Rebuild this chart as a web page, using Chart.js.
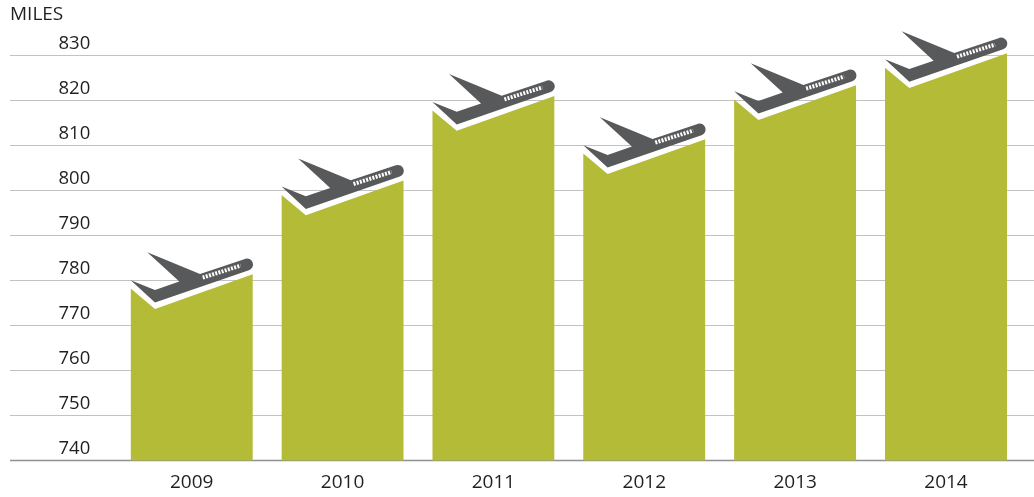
<!DOCTYPE html>
<html>
<head>
<meta charset="utf-8">
<title>Miles</title>
<script src="https://cdn.jsdelivr.net/npm/chart.js@4"></script>
<style>
  body { margin: 0; background: #fff; }
  #wrap { width: 1034px; height: 497px; }
</style>
</head>
<body>
<div id="wrap"><canvas id="miles_chart"></canvas></div>
<script>
const years = ['2009', '2010', '2011', '2012', '2013', '2014'];
const miles = [781.4, 802.2, 821, 811.4, 823.4, 830.5];
const yTicks = [740, 750, 760, 770, 780, 790, 800, 810, 820, 830];

const FONT = '"Open Sans", sans-serif';
const TEXT = '#231f20';

// gridlines run past the plot area on both sides, so draw them by hand
const fullGrid = {
  id: 'fullGrid',
  beforeDatasetsDraw(chart) {
    const { ctx, scales: { y } } = chart;
    ctx.save();
    yTicks.forEach((t) => {
      const py = y.getPixelForValue(t);
      ctx.beginPath();
      ctx.moveTo(10, py);
      ctx.lineTo(1034, py);
      ctx.lineWidth = t === 740 ? 1.5 : 1;
      ctx.strokeStyle = t === 740 ? '#8f9193' : '#c2c2c2';
      ctx.stroke();
    });
    ctx.restore();
  }
};

// bar top is a notch under the plane, plane hangs off the bar's top right corner
const planeBars = {
  id: 'planeBars',
  beforeDatasetDraw(chart) {
    const { ctx } = chart;
    ctx.save();
    ctx.beginPath();
    chart.getDatasetMeta(0).data.forEach((b) => {
      const l = b.x - b.width / 2, r = b.x + b.width / 2;
      ctx.moveTo(l, b.base);
      ctx.lineTo(l, b.y + 14.4);
      ctx.lineTo(r - 97.7, b.y + 34.7);
      ctx.lineTo(r, b.y);
      ctx.lineTo(r, b.base);
      ctx.closePath();
    });
    ctx.clip();
  },
  afterDatasetDraw(chart) {
    const { ctx } = chart;
    ctx.restore();
    ctx.save();
    chart.getDatasetMeta(0).data.forEach((b) => {
      const r = b.x + b.width / 2, t = b.y;
      ctx.fillStyle = '#58595b';
      ctx.beginPath();
      ctx.moveTo(r - 122, t + 6);
      ctx.lineTo(r - 97.7, t + 15.7);
      ctx.lineTo(r - 73.4, t + 7.4);
      ctx.lineTo(r - 105.4, t - 22);
      ctx.lineTo(r - 52.7, t - 0.3);
      ctx.lineTo(r - 7.7, t - 15.3);
      ctx.arc(r - 5.7, t - 9.7, 6, -1.9, 1.25);
      ctx.lineTo(r - 97.7, t + 28.4);
      ctx.closePath();
      ctx.fill();
      // windows
      ctx.beginPath();
      ctx.moveTo(r - 50, t + 3.4);
      ctx.lineTo(r - 12, t - 8.6);
      ctx.strokeStyle = '#fff';
      ctx.lineWidth = 4;
      ctx.setLineDash([2, 1.3]);
      ctx.stroke();
      ctx.setLineDash([]);
    });
    ctx.restore();
  }
};

new Chart(document.getElementById('miles_chart'), {
  type: 'bar',
  data: {
    labels: years,
    datasets: [{
      data: miles,
      backgroundColor: '#b3bb37',
      borderWidth: 0,
      barThickness: 122
    }]
  },
  plugins: [fullGrid, planeBars],
  options: {
    responsive: true,
    maintainAspectRatio: false,
    animation: false,
    layout: { autoPadding: false, padding: { left: 10, right: 12.57, top: 0, bottom: 0 } },
    plugins: {
      legend: { display: false },
      tooltip: { enabled: false },
      title: {
        display: true,
        text: 'MILES',
        align: 'start',
        color: TEXT,
        font: { family: FONT, size: 19, weight: 'normal', lineHeight: 1.2 },
        padding: { top: 3.5, bottom: 6.7 }
      }
    },
    scales: {
      x: {
        afterFit: (s) => { s.height = 36.5; s.paddingLeft = 0; s.paddingRight = 0; },
        grid: { display: false, drawTicks: false },
        border: { display: false },
        ticks: { color: TEXT, padding: 11, maxRotation: 0, font: { family: FONT, size: 19 } }
      },
      y: {
        min: 740,
        max: 835,
        afterFit: (s) => { s.width = 106.27; s.paddingTop = 0; s.paddingBottom = 0; },
        grid: { display: false, drawTicks: false },
        border: { display: false },
        ticks: {
          stepSize: 10,
          includeBounds: false,
          labelOffset: -11.5,
          padding: 26,
          color: TEXT,
          font: { family: FONT, size: 18.5 }
        }
      }
    }
  }
});
</script>
</body>
</html>
